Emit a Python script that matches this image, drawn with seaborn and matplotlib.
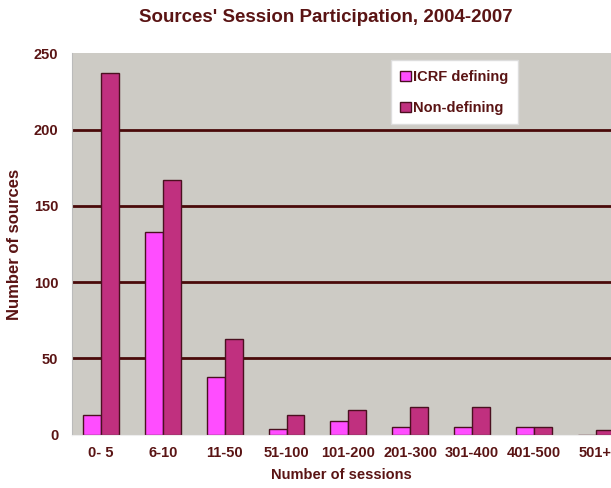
import pandas as pd
import numpy as np
import matplotlib
matplotlib.use('Agg')
import matplotlib.pyplot as plt
import seaborn as sns

categories = ['0- 5', '6-10', '11-50', '51-100', '101-200', '201-300', '301-400', '401-500', '501+']
icrf_defining = [13, 133, 38, 4, 9, 5, 5, 5, 0]
non_defining = [237, 167, 63, 13, 16, 18, 18, 5, 3]
series = ['ICRF defining', 'Non-defining']

df = pd.DataFrame({
    'session': categories * 2,
    'count': icrf_defining + non_defining,
    'type': [series[0]] * len(categories) + [series[1]] * len(categories),
})

sns.set_style('white')
plt.rcParams['font.family'] = ['Liberation Sans', 'DejaVu Sans']
text_col = '#5a1414'

fig = plt.figure(figsize=(6.11, 4.88), dpi=100)
ax = fig.add_axes([0.118, 0.109, 0.882, 0.782])
ax.set_facecolor('#cdcbc5')

sns.barplot(data=df, x='session', y='count', hue='type', order=categories,
            hue_order=series, palette=['#ff4dff', '#c0307f'], width=0.58,
            edgecolor='#4a1020', linewidth=1, saturation=1, ax=ax)

# dark horizontal grid lines
for y in [50, 100, 150, 200]:
    ax.axhline(y, color='#4a0a0a', lw=2, zorder=0.5)

ax.set_ylim(0, 250)
ax.set_xlim(-0.47, 8.25)
ax.set_yticks([0, 50, 100, 150, 200, 250])
ax.tick_params(axis='y', length=4, color='#aaaaaa', labelsize=10.5, labelcolor=text_col, pad=6)
ax.tick_params(axis='x', length=0, labelsize=10.5, labelcolor=text_col, pad=8)
for lab in ax.get_xticklabels() + ax.get_yticklabels():
    lab.set_fontweight('bold')

for s in ['top', 'right']:
    ax.spines[s].set_visible(False)
ax.spines['left'].set_color('#bbbbbb')
ax.spines['bottom'].set_color('#eeeeee')

ax.set_xlabel('Number of sessions', fontsize=10.5, fontweight='bold', color=text_col, labelpad=6)
ax.set_ylabel('Number of sources', fontsize=12, fontweight='bold', color=text_col, labelpad=8)

leg = ax.legend(loc='upper left', bbox_to_anchor=(0.578, 1.0), fontsize=10.5,
                frameon=True, fancybox=False, framealpha=1, handlelength=0.7,
                handleheight=0.7, handletextpad=0.2, labelspacing=1.15, borderpad=0.65)
leg.get_frame().set_facecolor('white')
leg.get_frame().set_edgecolor('#dddddd')
for t in leg.get_texts():
    t.set_color(text_col)
    t.set_fontweight('bold')

fig.text(326 / 611, 1 - 18 / 488, "Sources' Session Participation, 2004-2007",
         ha='center', va='center', fontsize=13.5, fontweight='bold', color=text_col)

fig.savefig('out.png', dpi=100)
